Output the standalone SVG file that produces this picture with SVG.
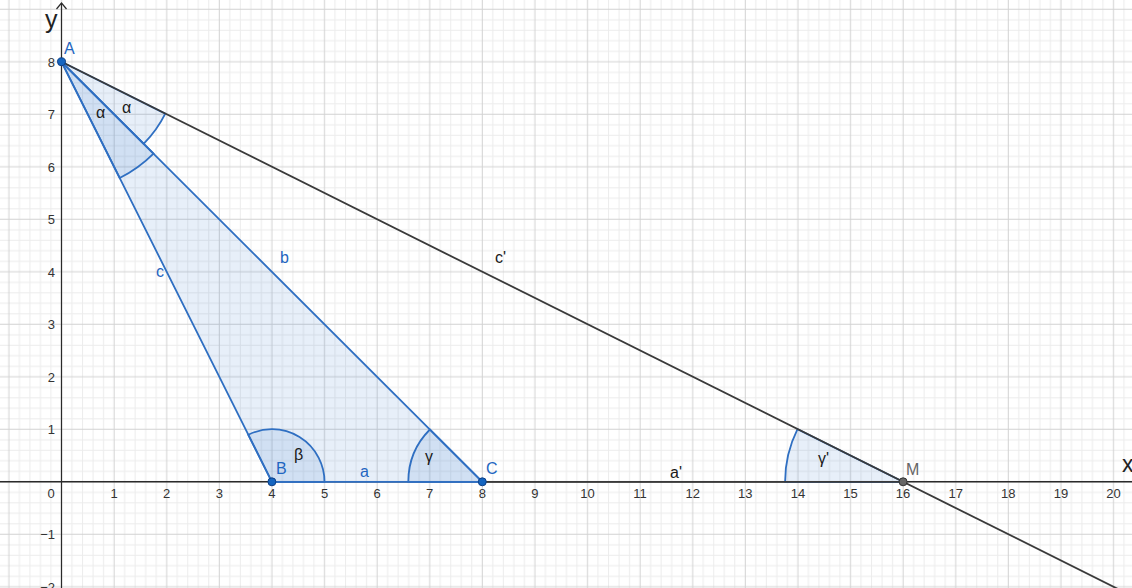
<svg xmlns="http://www.w3.org/2000/svg" width="1132" height="588" viewBox="0 0 1132 588">
<style>
.num{font-family:"Liberation Sans",Arial,sans-serif;font-size:13px;fill:#333}
.numx{text-anchor:middle}
.numy{text-anchor:end}
.blue{font-family:"Liberation Sans",Arial,sans-serif;font-size:16px;fill:#1f66c1}
.blk{font-family:"Liberation Sans",Arial,sans-serif;font-size:16px;fill:#1a1a1a}
.seg{fill:none;stroke:#2f6fc2;stroke-width:1.8}
.arc{fill:rgba(21,101,192,0.1);stroke:#2f6fc2;stroke-width:1.8}
.dark{fill:none;stroke:#3a3a3a;stroke-width:1.8}
.pt{fill:#1565c0;stroke:#0d3f86;stroke-width:1}
</style>
<defs>
<pattern id="grid" patternUnits="userSpaceOnUse" x="56.24" y="476.55" width="52.6" height="52.5">
<path d="M15.78 0V52.5M26.3 0V52.5M36.82 0V52.5M47.34 0V52.5M0 15.75H52.6M0 26.25H52.6M0 36.75H52.6M0 47.25H52.6" stroke="#ececec" stroke-width="1" fill="none"/>
<path d="M5.26 0V52.5M0 5.25H52.6" stroke="#d2d2d2" stroke-width="1" fill="none"/>
</pattern>
</defs>
<rect width="1132" height="588" fill="#fff"/>
<g id="grid-layer"><rect width="1132" height="588" fill="url(#grid)"/></g>
<g id="axes">
<path d="M0 481.8H1132" stroke="#2a2a2a" stroke-width="1.4"/>
<path d="M61.5 588V3" stroke="#2a2a2a" stroke-width="1.2"/>
<path d="M56.5 9L61.5 3L66.5 9" fill="none" stroke="#2a2a2a" stroke-width="1.2"/>
<text x="45" y="28" style="font-family:'Liberation Sans',Arial,sans-serif;font-size:25px;fill:#222">y</text>
<text x="1122" y="472" style="font-family:'Liberation Sans',Arial,sans-serif;font-size:23px;fill:#222">x</text>
<g class="num numx">
<text x="51" y="498">0</text>
<text x="114.1" y="498">1</text><text x="166.7" y="498">2</text><text x="219.3" y="498">3</text><text x="271.9" y="498">4</text><text x="324.5" y="498">5</text><text x="377.1" y="498">6</text><text x="429.7" y="498">7</text><text x="482.3" y="498">8</text><text x="534.9" y="498">9</text><text x="587.5" y="498">10</text><text x="640.1" y="498">11</text><text x="692.7" y="498">12</text><text x="745.3" y="498">13</text><text x="797.9" y="498">14</text><text x="850.5" y="498">15</text><text x="903.1" y="498">16</text><text x="955.7" y="498">17</text><text x="1008.3" y="498">18</text><text x="1060.9" y="498">19</text><text x="1113.5" y="498">20</text>
</g>
<g class="num numy">
<text x="55" y="434.3">1</text><text x="55" y="381.8">2</text><text x="55" y="329.3">3</text><text x="55" y="276.8">4</text><text x="55" y="224.3">5</text><text x="55" y="171.8">6</text><text x="55" y="119.3">7</text><text x="55" y="66.8">8</text><text x="55" y="539.3">−1</text><text x="55" y="591.8">−2</text>
</g>
</g>
<g id="triangle-ABC">
<polygon points="61.5,61.8 271.9,481.8 482.3,481.8" fill="rgba(21,101,192,0.1)" stroke="none"/>
</g>
<g id="angles">
<path class="arc" d="M61.5 61.8L119.7 178.0A130 130 0 0 0 153.5 153.6Z"/>
<path class="arc" d="M61.5 61.8L143.6 143.8A116 116 0 0 0 165.3 113.6Z"/>
<path class="arc" d="M271.9 481.8L324.5 481.8A52.6 52.6 0 0 0 248.3 434.8Z"/>
<path class="arc" d="M482.3 481.8L408.3 481.8A74 74 0 0 1 429.9 429.5Z"/>
<path class="arc" d="M903.1 481.8L785.1 481.8A118 118 0 0 1 797.5 429.1Z"/>
</g>
<g id="connectors">
<path class="dark" d="M61.5 61.8L1120 590"/>
<path class="dark" d="M482.3 481.8H903.1"/>
<path class="seg" d="M61.5 61.8L271.9 481.8H482.3Z"/>
</g>
<g id="labels">
<text class="blk" x="96" y="118">α</text>
<text class="blk" x="122" y="113">α</text>
<text class="blk" x="294" y="460">β</text>
<text class="blk" x="425" y="462">γ</text>
<text class="blk" x="818" y="464">γ'</text>
<text class="blue" x="360" y="477">a</text>
<text class="blue" x="280" y="263">b</text>
<text class="blue" x="156" y="277">c</text>
<text class="blk" x="670" y="478">a'</text>
<text class="blk" x="495" y="263">c'</text>
</g>
<g id="point-A"><circle class="pt" cx="61.5" cy="61.8" r="4"/><text class="blue" x="64" y="54">A</text></g>
<g id="point-B"><circle class="pt" cx="271.9" cy="481.8" r="4"/><text class="blue" x="276" y="474">B</text></g>
<g id="point-C"><circle class="pt" cx="482.3" cy="481.8" r="4"/><text class="blue" x="486" y="474">C</text></g>
<g id="point-M"><circle cx="903.1" cy="481.8" r="4" fill="#666" stroke="#333" stroke-width="1"/><text x="906" y="475" style="font-family:'Liberation Sans',Arial,sans-serif;font-size:16px;fill:#666">M</text></g>
</svg>
